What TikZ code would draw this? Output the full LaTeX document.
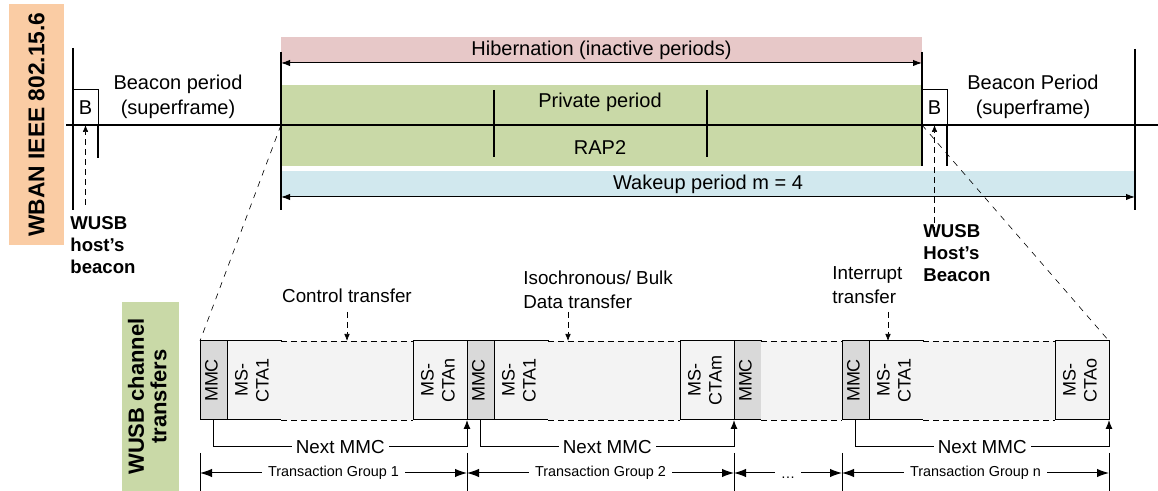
\documentclass[tikz,border=0pt]{standalone}
\usepackage{fontspec}
\setmainfont{Liberation Sans}
\usetikzlibrary{arrows.meta,positioning}
\definecolor{hibpink}{RGB}{231,200,200}
\definecolor{rapgreen}{RGB}{201,217,167}
\definecolor{wakeblue}{RGB}{209,232,238}
\definecolor{wbanorange}{RGB}{250,204,164}
\definecolor{mmcgray}{RGB}{217,217,217}
\definecolor{ctagray}{RGB}{243,243,243}
\newcommand{\toplbl}{\fontsize{10}{12.5}\selectfont}
\newcommand{\botlbl}{\fontsize{9.4}{12}\selectfont}
\newcommand{\slotlbl}{\fontsize{9}{10.5}\selectfont}
\newcommand{\tglbl}{\fontsize{7.2}{8}\selectfont}
\newcommand{\hostlbl}{\fontsize{9.3}{11}\selectfont\bfseries}
\newcommand{\vlabel}[1]{\rotatebox{90}{\begin{tabular}{@{}c@{}}#1\end{tabular}}}
\tikzset{
    marker/.style={black,line width=0.9pt},
    axis/.style={black,line width=0.6pt},
    divider/.style={black,line width=0.6pt},
    band/.style={inner sep=0pt,outer sep=0pt,anchor=north west},
    tag/.style={inner sep=0pt,outer sep=0pt,font=\bfseries},
    span/.style={<->,>={Latex[length=4.5pt,width=3.2pt]},line width=0.5pt},
    pointer/.style={->,>={Latex[length=3.5pt,width=2.8pt]},densely dashed,line width=0.35pt},
    zoomline/.style={dashed,line width=0.3pt},
    beacon/.style={draw,line width=0.5pt,minimum width=12.5pt,minimum height=17.5pt,inner sep=0pt,outer sep=0pt,anchor=south west},
    slot/.style={draw,line width=0.5pt,minimum height=39.5pt,inner sep=0pt,outer sep=0pt,font=\slotlbl},
    mmc/.style={slot,fill=mmcgray,minimum width=13.5pt},
    cta/.style={slot,fill=ctagray,minimum width=27pt},
    gap/.style={fill=ctagray,minimum height=39.5pt,inner sep=0pt,outer sep=0pt},
    gapedge/.style={densely dashed,line width=0.4pt},
    nextmmc/.style={->,>={Latex[length=4.5pt,width=3.5pt]},line width=0.5pt},
    tgspan/.style={<->,>={Latex[length=6pt,width=4.2pt]},line width=0.5pt},
    tick/.style={line width=0.5pt}
}
\begin{document}
\begin{tikzpicture}[x=0.5pt,y=-0.5pt,font=\toplbl]
\useasboundingbox (0,0) rectangle (1158,491);
\node[tag,fill=wbanorange,minimum width=27.5pt,minimum height=120.5pt,font=\fontsize{11.4}{13}\selectfont\bfseries] (wban) at (36.5,124.5) {\rotatebox{90}{WBAN IEEE 802.15.6}};
\node[tag,fill=rapgreen,minimum width=28.5pt,minimum height=94.5pt,font=\fontsize{11}{11}\selectfont\bfseries] (wusbtag) at (150.5,396.5) {\vlabel{WUSB channel\\transfers}};

\node[band,fill=hibpink,minimum width=320.5pt,minimum height=13pt] (hib) at (281,37) {Hibernation (inactive periods)};
\node[band,fill=rapgreen,minimum width=320.5pt,minimum height=40.5pt] (active) at (281,85) {};
\node[band,fill=wakeblue,minimum width=427pt,minimum height=13pt] (wake) at (281,171) {Wakeup period m = 4};
\node (private) at (600,102) {Private period};
\node (rap) at (600,148) {RAP2};

\coordinate (axL) at (66,125);
\coordinate (axR) at (1158,125);
\coordinate (hibStart) at (281,125);
\coordinate (hibEnd) at (922,125);
\draw[axis] (axL)--(axR);
\draw[divider] (494,90)--(494,157);
\draw[divider] (707,90)--(707,157);
\draw[marker] (73,48)--(73,210);
\draw[marker] (281,52)--(281,210);
\draw[marker] (922,52)--(922,166);
\draw[marker] (1135,49)--(1135,210);
\draw[span] (hib.south west)--(hib.south east);
\draw[span] (wake.south west)--(wake.south east);

\node[beacon] (bA) at (73,125) {B};
\draw[divider] (bA.south east)--++(0,33);
\node[beacon] (bB) at (922,125) {B};
\draw[divider] (bB.south east)--++(0,41);
\node[align=center] (bpA) at (178,97) {Beacon period\\(superframe)};
\node[align=center] (bpB) at (1033,97) {Beacon Period\\(superframe)};
\node[align=left,anchor=west,inner sep=0pt,font=\hostlbl] (hostA) at (70,245) {WUSB\\host's\\beacon};
\node[align=left,anchor=west,inner sep=0pt,font=\hostlbl] (hostB) at (923,253) {WUSB\\Host's\\Beacon};
\draw[pointer] ([yshift=-40pt]bA.south)--(bA.south);
\draw[pointer] ([yshift=-54pt]bB.south)--(bB.south);

\node[mmc,anchor=north west] (mmcA) at (200,341) {\vlabel{MMC}};
\node[cta,right=0pt of mmcA] (ctaA) {\vlabel{MS-\\CTA1}};
\node[gap,minimum width=66pt,right=0pt of ctaA] (gapA) {};
\node[cta,right=0pt of gapA] (ctaB) {\vlabel{MS-\\CTAn}};
\node[mmc,right=0pt of ctaB] (mmcB) {\vlabel{MMC}};
\node[cta,right=0pt of mmcB] (ctaC) {\vlabel{MS-\\CTA1}};
\node[gap,minimum width=66pt,right=0pt of ctaC] (gapB) {};
\node[cta,right=0pt of gapB] (ctaD) {\vlabel{MS-\\CTAm}};
\node[mmc,right=0pt of ctaD] (mmcC) {\vlabel{MMC}};
\node[gap,minimum width=40.5pt,right=0pt of mmcC] (gapC) {};
\node[mmc,right=0pt of gapC] (mmcD) {\vlabel{MMC}};
\node[cta,right=0pt of mmcD] (ctaE) {\vlabel{MS-\\CTA1}};
\node[gap,minimum width=66pt,right=0pt of ctaE] (gapD) {};
\node[cta,right=0pt of gapD] (ctaF) {\vlabel{MS-\\CTAo}};
\draw[gapedge] (gapA.north west)--(gapA.north east) (gapA.south west)--(gapA.south east);
\draw[gapedge] (gapB.north west)--(gapB.north east) (gapB.south west)--(gapB.south east);
\draw[gapedge] (gapC.north west)--(gapC.north east) (gapC.south west)--(gapC.south east);
\draw[gapedge] (gapD.north west)--(gapD.north east) (gapD.south west)--(gapD.south east);

\draw[zoomline] (hibStart)--(mmcA.north west);
\draw[zoomline] (hibEnd)--(ctaF.north east);

\node[font=\botlbl] (ctrl) at (347,296) {Control transfer};
\node[font=\botlbl,align=left,anchor=west,inner sep=0pt] (iso) at (523,290) {Isochronous/ Bulk\\Data transfer};
\node[font=\botlbl,align=left,anchor=west,inner sep=0pt] (intr) at (832,285) {Interrupt\\transfer};
\draw[pointer] ([yshift=14.5pt]gapA.north)--(gapA.north);
\draw[pointer] ([xshift=10pt,yshift=14.5pt]gapB.north west)--([xshift=10pt]gapB.north west);
\draw[pointer] ([xshift=-4pt,yshift=14.5pt]ctaE.north)--([xshift=-4pt]ctaE.north);

\draw[nextmmc] (mmcA.south)--++(0,27)-|(mmcB.south west) node[pos=0.25,fill=white,inner sep=2pt,font=\botlbl]{Next MMC};
\draw[nextmmc] (mmcB.south)--++(0,27)-|(mmcC.south west) node[pos=0.25,fill=white,inner sep=2pt,font=\botlbl]{Next MMC};
\draw[nextmmc] (mmcD.south)--++(0,27)-|(ctaF.south east) node[pos=0.25,fill=white,inner sep=2pt,font=\botlbl]{Next MMC};

\coordinate (tgA) at ([yshift=-26.5pt]mmcA.south west);
\coordinate (tgB) at ([yshift=-26.5pt]mmcB.south west);
\coordinate (tgC) at ([yshift=-26.5pt]mmcC.south west);
\coordinate (tgD) at ([yshift=-26.5pt]mmcD.south west);
\coordinate (tgE) at ([yshift=-26.5pt]ctaF.south east);
\draw[tick] ([yshift=10pt]tgA)--([yshift=-9pt]tgA);
\draw[tick] ([yshift=10pt]tgB)--([yshift=-9pt]tgB);
\draw[tick] ([yshift=10pt]tgC)--([yshift=-9pt]tgC);
\draw[tick] ([yshift=10pt]tgD)--([yshift=-9pt]tgD);
\draw[tick] ([yshift=10pt]tgE)--([yshift=-9pt]tgE);
\draw[tgspan] (tgA)--(tgB) node[midway,fill=white,inner sep=3pt,font=\tglbl]{Transaction Group 1};
\draw[tgspan] (tgB)--(tgC) node[midway,fill=white,inner sep=3pt,font=\tglbl]{Transaction Group 2};
\draw[tgspan] (tgC)--(tgD) node[midway,fill=white,inner sep=3pt,font=\tglbl,yshift=-2.5pt]{\dots};
\draw[tgspan] (tgD)--(tgE) node[midway,fill=white,inner sep=3pt,font=\tglbl]{Transaction Group n};
\end{tikzpicture}
\end{document}
